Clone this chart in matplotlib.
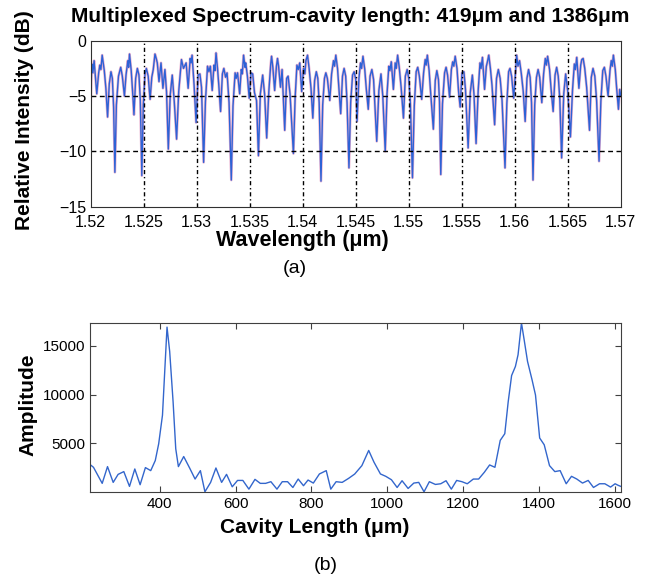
import numpy as np
import matplotlib.pyplot as plt

plt.rcParams['font.family'] = ['Liberation Sans', 'DejaVu Sans']

# (a) multiplexed spectrum (wavelength in nm, level in dB)
spec_nm = [
    1520.00, 1520.10, 1520.20, 1520.32, 1520.57, 1520.75, 1520.86, 1520.96, 1521.08, 1521.28, 1521.43, 1521.59, 1521.75, 1521.91, 1522.04, 1522.16, 1522.28,
    1522.42, 1522.62, 1522.83, 1522.98, 1523.18, 1523.33, 1523.50, 1523.58, 1523.66, 1523.82, 1523.95, 1524.08, 1524.24, 1524.40, 1524.55, 1524.68, 1524.82,
    1524.96, 1525.12, 1525.25, 1525.42, 1525.60, 1525.76, 1525.90, 1526.06, 1526.18, 1526.28, 1526.44, 1526.63, 1526.81, 1527.00, 1527.15, 1527.32,
    1527.50, 1527.69, 1527.88, 1528.10,
    1528.30, 1528.56, 1528.75, 1529.00, 1529.19, 1529.38, 1529.47, 1529.56, 1529.75, 1529.94, 1530.13, 1530.30, 1530.45, 1530.65,
    1530.82, 1531.02, 1531.15, 1531.28, 1531.46, 1531.63, 1531.72, 1531.82, 1531.96, 1532.08, 1532.25, 1532.42, 1532.56, 1532.72, 1532.86, 1533.05, 1533.26,
    1533.42, 1533.62, 1533.72, 1533.85, 1534.05, 1534.20, 1534.30, 1534.42, 1534.55, 1534.62, 1534.78, 1534.95, 1535.12, 1535.28, 1535.45, 1535.64, 1535.82,
    1536.00, 1536.22, 1536.40, 1536.60,
    1536.80, 1536.98, 1537.06, 1537.18, 1537.35, 1537.52, 1537.62, 1537.72, 1537.90, 1538.05, 1538.30, 1538.48, 1538.62, 1538.80, 1539.12,
    1539.28, 1539.45, 1539.58, 1539.72, 1539.90, 1540.08, 1540.20, 1540.30, 1540.45, 1540.60, 1540.78, 1540.95, 1541.12, 1541.28, 1541.42, 1541.55, 1541.72,
    1541.88, 1542.05, 1542.18, 1542.32, 1542.55, 1542.72, 1542.90, 1543.00, 1543.12, 1543.28, 1543.42, 1543.58, 1543.75, 1543.90, 1544.05, 1544.18, 1544.36,
    1544.52, 1544.70, 1544.85, 1545.00, 1545.12, 1545.30, 1545.45, 1545.55, 1545.68, 1545.85, 1546.00, 1546.18, 1546.35, 1546.52, 1546.68, 1546.98,
    1547.18, 1547.38, 1547.55, 1547.78,
    1547.95, 1548.12, 1548.22, 1548.35, 1548.55, 1548.72, 1548.82, 1548.95, 1549.10, 1549.28, 1549.50, 1549.68, 1549.85, 1550.00, 1550.15, 1550.35,
    1550.52, 1550.70, 1550.85, 1551.00, 1551.22, 1551.40, 1551.55, 1551.64, 1551.75, 1551.92, 1552.05, 1552.32, 1552.50, 1552.65, 1552.80, 1552.90, 1553.02,
    1553.18, 1553.38, 1553.52, 1553.66, 1553.85, 1554.02, 1554.15, 1554.25, 1554.38, 1554.55, 1554.70, 1554.85, 1555.02, 1555.20, 1555.35, 1555.60,
    1555.80, 1556.00, 1556.15, 1556.35,
    1556.55, 1556.72, 1556.82, 1556.95, 1557.15, 1557.32, 1557.42, 1557.55, 1557.70, 1557.85, 1558.10, 1558.28, 1558.45, 1558.62, 1558.80, 1559.08,
    1559.25, 1559.42, 1559.55, 1559.70, 1559.90, 1560.08, 1560.18, 1560.30, 1560.45, 1560.62, 1560.80, 1560.98, 1561.15, 1561.30, 1561.45, 1561.58, 1561.72,
    1561.88, 1562.05, 1562.20, 1562.35, 1562.55, 1562.72, 1562.88, 1562.98, 1563.10, 1563.28, 1563.42, 1563.62, 1563.80, 1563.95, 1564.10, 1564.25, 1564.42,
    1564.62, 1564.80, 1565.00, 1565.25,
    1565.45, 1565.62, 1565.72, 1565.85, 1566.05, 1566.22, 1566.32, 1566.45, 1566.60, 1566.78, 1567.05, 1567.22, 1567.38, 1567.55, 1567.72, 1567.95,
    1568.12, 1568.30, 1568.45, 1568.60, 1568.80, 1568.98, 1569.10, 1569.20, 1569.30, 1569.48, 1569.62, 1569.78, 1569.90, 1570.00,
]
spec_db = [
    -5.6, -2.1, -2.9, -1.8, -4.8, -2.9, -2.2, -2.6, -1.3, -2.7, -4.3, -6.9, -3.9, -2.8, -3.4, -6.0, -11.9,
    -5.8, -3.2, -2.4, -3.2, -5.0, -3.1, -1.8, -2.4, -1.2, -2.7, -4.6, -6.7, -3.4, -2.5, -3.1, -5.4, -12.2,
    -5.8, -3.0, -2.5, -3.2, -5.3, -3.3, -2.6, -1.2, -1.6, -2.0, -3.7, -2.0, -4.3, -2.6, -4.6, -9.8,
    -4.9, -3.1, -5.5, -8.9,
    -4.6, -1.7, -2.5, -2.0, -4.3, -1.6, -2.0, -1.3, -4.0, -7.4, -3.1, -3.0, -4.2, -11.0,
    -5.5, -2.3, -2.8, -2.3, -4.5, -2.2, -2.7, -1.1, -2.5, -4.0, -6.4, -3.0, -2.5, -3.3, -2.9, -5.6, -12.6,
    -5.9, -2.9, -3.4, -2.9, -4.8, -2.6, -3.0, -1.3, -2.4, -2.0, -3.2, -5.2, -2.9, -3.0, -4.7, -5.4, -10.4,
    -4.8, -3.1, -4.8, -8.8,
    -4.6, -2.1, -1.4, -2.4, -4.5, -2.3, -1.6, -2.3, -4.2, -2.6, -8.1, -3.4, -3.2, -4.8, -10.2,
    -5.2, -2.2, -2.6, -2.0, -4.6, -2.5, -3.0, -1.8, -1.3, -2.5, -4.3, -7.0, -3.6, -2.8, -3.4, -5.6, -12.7,
    -5.8, -3.4, -2.9, -3.4, -5.4, -3.0, -1.8, -2.3, -1.3, -2.5, -4.4, -6.6, -3.2, -2.5, -3.2, -5.6, -11.5,
    -5.6, -3.1, -2.8, -3.5, -7.3, -3.4, -2.0, -2.5, -1.4, -2.6, -4.4, -6.2, -3.2, -2.6, -3.5, -9.1,
    -4.5, -3.0, -5.0, -10.0,
    -4.8, -2.3, -2.7, -1.9, -4.4, -2.0, -2.5, -1.3, -2.4, -4.2, -7.0, -3.2, -2.6, -3.4, -5.6, -12.4,
    -5.9, -2.8, -2.4, -3.2, -5.3, -2.9, -1.7, -2.2, -1.3, -2.7, -4.5, -8.0, -3.6, -2.7, -3.5, -5.5, -12.1,
    -5.7, -2.9, -2.4, -3.1, -5.1, -2.6, -1.9, -2.3, -1.4, -2.5, -4.6, -6.0, -2.9, -2.8, -4.4, -9.7,
    -4.7, -3.1, -4.8, -9.3,
    -4.5, -2.0, -2.5, -1.5, -4.4, -2.3, -1.9, -1.3, -2.5, -4.0, -7.6, -3.4, -2.6, -3.4, -5.4, -11.5,
    -5.7, -2.8, -2.5, -3.2, -5.2, -2.6, -1.3, -2.3, -1.8, -3.0, -4.6, -7.3, -3.4, -2.6, -3.3, -5.6, -12.6,
    -5.8, -3.3, -2.6, -3.3, -5.6, -3.0, -1.6, -2.2, -1.4, -2.6, -4.3, -6.4, -3.1, -2.4, -3.2, -5.3, -10.6,
    -4.8, -3.0, -4.6, -8.7,
    -4.4, -2.1, -2.6, -1.5, -4.3, -2.2, -1.7, -1.6, -2.5, -4.2, -8.1, -3.3, -2.5, -3.2, -5.4, -10.9,
    -5.5, -2.7, -2.4, -3.2, -5.0, -2.7, -1.8, -2.3, -1.3, -2.6, -4.4, -6.2, -4.4, -5.0,
]

# (b) FFT of the spectrum
cav_len = [216, 225, 248, 262, 277, 290, 305, 320, 334, 348, 362, 376, 388, 397, 407, 412,
           419, 426, 435, 442, 449, 463, 479, 493, 507, 519, 534, 548, 563, 576, 591, 605,
           619, 635, 651, 665, 679, 693, 709, 723, 737, 751, 765, 779, 791, 805, 821, 839,
           851, 865, 881, 898, 914, 933, 951, 965, 982, 996, 1011, 1026, 1039, 1055, 1070, 1083,
           1097, 1111, 1127, 1141, 1155, 1169, 1183, 1197, 1211, 1227, 1241, 1256, 1270, 1284, 1298, 1310,
           1319, 1328, 1338, 1345, 1354, 1361, 1370, 1382, 1391, 1402, 1414, 1428, 1442, 1456, 1472, 1486,
           1500, 1515, 1530, 1544, 1560, 1574, 1589, 1601, 1608, 1616]
amplitude = [2850, 2570, 930, 2640, 1030, 1850, 2130, 620, 2400, 790, 2540, 2230, 3260, 4970, 7890, 11660,
             16880, 14400, 9260, 4460, 2640, 3670, 2470, 1370, 2230, 70, 1030, 2500, 1030, 1850, 580, 1230,
             1230, 340, 1340, 930, 930, 1100, 340, 1100, 1100, 510, 1370, 690, 1270, 960, 1890, 2230,
             340, 1100, 1030, 1440, 1880, 2740, 4290, 3090, 1890, 1650, 1300, 510, 1200, 410, 960, 1030,
             70, 1100, 820, 890, 1200, 340, 1230, 1100, 890, 1370, 1370, 2060, 2810, 2570, 5320, 6000,
             9260, 11940, 12860, 14060, 17300, 15610, 13380, 11490, 9950, 5560, 4870, 2740, 2130, 2230, 890, 1650,
             1370, 960, 1230, 510, 890, 890, 550, 890, 750, 620]

wl_ticks = [1.52, 1.525, 1.53, 1.535, 1.54, 1.545, 1.55, 1.555, 1.56, 1.565, 1.57]
db_ticks = [0, -5, -10, -15]
len_ticks = [400, 600, 800, 1000, 1200, 1400, 1600]
amp_ticks = [5000, 10000, 15000]

fig = plt.figure(figsize=(6.48, 5.82), dpi=100)

# ---- panel (a) ----
ax1 = fig.add_axes([0.140, 0.645, 0.818, 0.285])
wl = np.array(spec_nm) / 1000.0
ax1.plot(wl, spec_db, color='#e8b0cf', lw=1.9)
ax1.plot(wl, spec_db, color='#2d62d6', lw=1.0)
for t in wl_ticks[1:-1]:
    ax1.axvline(t, color='black', lw=1.0, ls=(0, (3, 2, 1, 2)))
for t in db_ticks[1:-1]:
    ax1.axhline(t, color='black', lw=1.0, ls=(0, (3.5, 2.5)))
ax1.set_xlim(1.52, 1.57)
ax1.set_ylim(-15, 0)
ax1.set_xticks(wl_ticks)
ax1.set_xticklabels(['%g' % t for t in wl_ticks])
ax1.set_yticks(db_ticks)
ax1.tick_params(axis='x', direction='in', labelsize=11.5, length=0, pad=6)
ax1.tick_params(axis='y', direction='in', labelsize=11.5, length=0, pad=3)
for s in ax1.spines.values():
    s.set_color('#303030')

fig.text(0.540, 0.971, 'Multiplexed Spectrum-cavity length: 419μm and 1386μm',
         ha='center', va='center', fontsize=15, fontweight='bold')
fig.text(0.038, 0.794, 'Relative Intensity (dB)', rotation=90,
         ha='center', va='center', fontsize=15, fontweight='bold')
fig.text(0.466, 0.586, 'Wavelength (μm)', ha='center', va='center',
         fontsize=15.5, fontweight='bold')
fig.text(0.455, 0.538, '(a)', ha='center', va='center', fontsize=14)

# ---- panel (b) ----
ax2 = fig.add_axes([0.139, 0.155, 0.819, 0.290])
ax2.plot(cav_len, amplitude, color='#3366cc', lw=1.0)
ax2.set_xlim(min(cav_len), max(cav_len))
ax2.set_ylim(min(amplitude), max(amplitude))
ax2.set_xticks(len_ticks)
ax2.set_yticks(amp_ticks)
ax2.tick_params(direction='in', labelsize=11, length=4, top=True, right=True,
                color='#404040')
for s in ax2.spines.values():
    s.set_color('#404040')

fig.text(0.043, 0.304, 'Amplitude', rotation=90, ha='center', va='center',
         fontsize=15, fontweight='bold')
fig.text(0.486, 0.093, 'Cavity Length (μm)', ha='center', va='center',
         fontsize=15, fontweight='bold')
fig.text(0.502, 0.029, '(b)', ha='center', va='center', fontsize=14)

fig.savefig('out.png', dpi=100)
